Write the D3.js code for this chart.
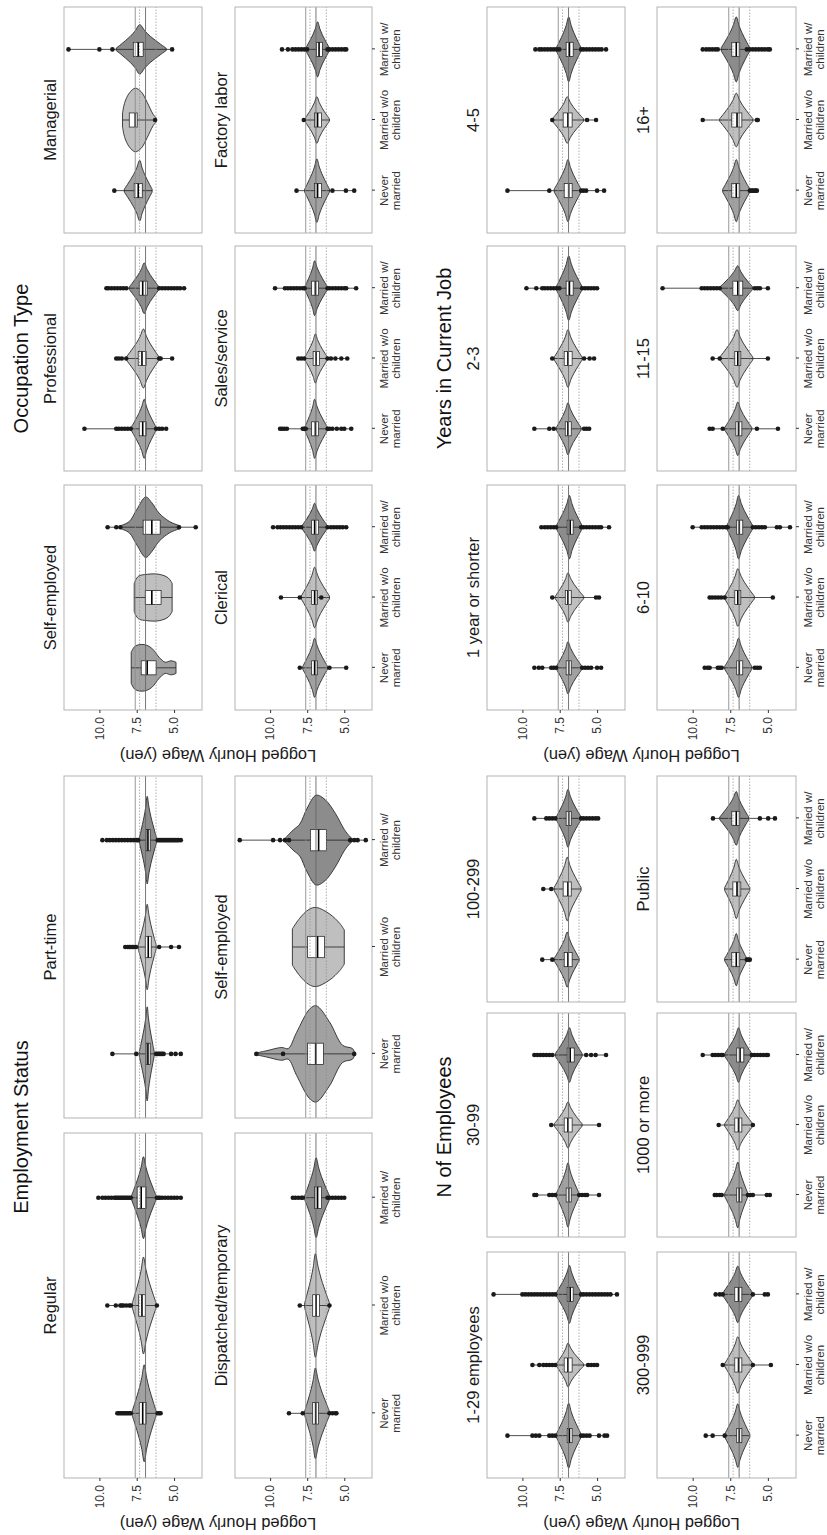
<!DOCTYPE html>
<html>
<head>
<meta charset="utf-8">
<script src="https://cdn.jsdelivr.net/npm/d3@7"></script>
<style>
  body { margin: 0; background: #fff; }
  text { font-family: "Liberation Sans", Arial, Helvetica, sans-serif; }
</style>
</head>
<body>
<svg id="chart" width="827" height="1535"></svg>
<script>
// categories and ticks
var categories = ["Never married", "Married w/o children", "Married w/ children"];
var categoryLines = [["Never", "married"], ["Married w/o", "children"], ["Married w/", "children"]];
var yTicks = [10, 7.5, 5];
var yDomain = [3.13, 12.37];
// reference wages: log(2000), log(1000) solid; log(1500), log(500) dotted
var refSolid = [7.60, 6.91];
var refDotted = [7.31, 6.21];

var sectionTitles = ["Employment Status", "Occupation Type", "N of Employees", "Years in Current Job"];
var employmentFacets = ["Regular", "Part-time", "Dispatched/temporary", "Self-employed"];
var occupationFacets = ["Self-employed", "Professional", "Managerial", "Clerical", "Sales/service", "Factory labor"];
var firmSizeFacets = ["1-29 employees", "30-99", "100-299", "300-999", "1000 or more", "Public"];
var tenureFacets = ["1 year or shorter", "2-3", "4-5", "6-10", "11-15", "16+"];

// each violin: [q1, median, q3, low end, mode, high end, half width, outliers, (explicit outline)]
var employmentViolins = [
  [ // Regular
    [6.87, 7.1, 7.33, 6.2, 7.0, 7.8, .45, [8.8, 8.7, 8.6, 8.5, 8.4, 8.3, 8.2, 8.1, 8.0, 7.9, 6.1, 6.0, 5.9]],
    [6.93, 7.15, 7.37, 6.2, 7.05, 7.8, .45, [9.47, 8.9, 8.6, 8.5, 8.4, 8.2, 8.0, 7.9, 6.15]],
    [6.87, 7.2, 7.47, 6.2, 7.05, 7.85, .38, [10.07, 9.8, 9.6, 9.4, 9.2, 9.0, 8.9, 8.8, 8.7, 8.6, 8.5, 8.4, 8.3, 8.2, 8.1, 8.0, 7.9, 6.15, 6.05, 5.95, 5.8, 5.6, 5.4, 5.2, 5.0, 4.8, 4.55]]
  ],
  [ // Part-time
    [6.6, 6.75, 6.87, 6.33, 6.8, 7.33, .44, [9.13, 7.53, 6.2, 6.1, 6.0, 5.9, 5.8, 5.7, 5.2, 4.9, 4.55]],
    [6.53, 6.73, 6.93, 6.2, 6.8, 7.4, .4, [8.27, 8.1, 8.0, 7.9, 7.8, 7.7, 7.55, 6.0, 5.2, 4.67]],
    [6.6, 6.75, 6.87, 6.17, 6.8, 7.33, .41, [9.8, 9.5, 9.3, 9.1, 8.9, 8.7, 8.5, 8.3, 8.1, 7.9, 7.7, 7.5, 7.4, 6.1, 6.0, 5.9, 5.8, 5.7, 5.6, 5.5, 5.4, 5.3, 5.2, 5.1, 5.0, 4.9, 4.8, 4.7, 4.55]]
  ],
  [ // Dispatched/temporary
    [6.73, 6.93, 7.13, 6.0, 6.95, 7.67, .42, [8.73, 7.8, 6.0, 5.8, 5.6, 5.53]],
    [6.67, 6.9, 7.13, 6.0, 6.95, 7.67, .48, [8.0, 6.0]],
    [6.53, 6.8, 7.0, 6.0, 6.9, 7.67, .37, [8.47, 8.3, 8.1, 7.9, 7.8, 6.13, 6.0, 5.8, 5.6, 5.4, 5.2, 5.0]]
  ],
  [ // Self-employed
    [6.4, 6.93, 7.47, 4.27, 6.89, 10.89, .45, [10.93, 9.13, 4.33],
      [[4.27, 0], [4.45, .05], [5.11, .08], [6.0, .3], [6.89, .45], [7.33, .42], [8.22, .2], [8.78, .05], [9.22, .06], [10.22, .03], [10.89, .01]]],
    [6.33, 6.8, 7.47, 5.0, 6.9, 8.5, .37, [],
      [[5.0, .16], [5.3, .22], [6.0, .31], [6.9, .37], [7.4, .35], [8.0, .27], [8.5, .17]]],
    [6.2, 6.73, 7.27, 4.33, 6.9, 9.1, .42, [12.05, 9.8, 9.33, 9.0, 8.73, 4.6, 4.33, 4.1, 3.55],
      [[4.33, 0], [4.6, .03], [5.0, .1], [5.6, .25], [6.3, .38], [6.9, .42], [7.5, .3], [8.0, .15], [8.4, .1], [8.7, .06], [9.1, 0]]]
  ]
];

var occupationViolins = [
  [ // Self-employed
    [6.2, 6.8, 7.2, 4.87, 7.0, 7.87, .33, [],
      [[4.87, .08], [5.2, .1], [5.6, .08], [6.0, .15], [6.5, .28], [7.0, .33], [7.6, .31], [7.87, .22]]],
    [5.87, 6.49, 6.93, 5.13, 6.5, 7.67, .33, [],
      [[5.13, .2], [5.4, .28], [6.0, .33], [6.8, .33], [7.4, .3], [7.67, .2]]],
    [5.93, 6.49, 7.07, 4.6, 6.8, 8.6, .43, [9.45, 8.87, 8.6, 4.67, 3.55],
      [[4.6, .02], [5.3, .08], [6.0, .2], [6.5, .35], [6.9, .43], [7.5, .25], [8.0, .08], [8.6, .02]]]
  ],
  [ // Professional
    [6.87, 7.1, 7.33, 6.2, 7.0, 7.87, .42, [11.0, 8.87, 8.7, 8.5, 8.3, 8.1, 7.9, 6.2, 6.0, 5.8, 5.53]],
    [6.87, 7.15, 7.4, 6.0, 7.05, 8.2, .42, [8.87, 8.7, 8.5, 8.2, 6.0, 5.9, 5.13]],
    [6.8, 7.1, 7.33, 6.0, 7.0, 8.0, .36, [9.53, 9.4, 9.2, 9.0, 8.8, 8.6, 8.4, 8.2, 6.0, 5.8, 5.6, 5.4, 5.2, 5.0, 4.8, 4.6, 4.33]]
  ],
  [ // Managerial
    [7.13, 7.4, 7.67, 6.47, 7.3, 8.33, .43, [9.0]],
    [7.47, 7.6, 8.0, 6.2, 7.6, 8.45, .45, [6.27],
      [[6.2, .03], [6.4, .08], [6.8, .25], [7.2, .4], [7.6, .45], [8.0, .38], [8.3, .25], [8.45, .1]]],
    [7.07, 7.4, 7.73, 5.53, 7.3, 8.87, .35, [12.07, 10.0, 9.13, 5.13]]
  ],
  [ // Clerical
    [6.8, 7.0, 7.2, 6.13, 7.0, 7.8, .42, [8.0, 6.0, 4.87]],
    [6.8, 7.0, 7.2, 6.0, 7.0, 7.9, .43, [9.27, 8.0, 6.55]],
    [6.73, 7.0, 7.2, 6.13, 7.0, 7.87, .34, [9.8, 9.5, 9.3, 9.1, 8.9, 8.7, 8.5, 8.3, 8.1, 7.9, 6.13, 5.9, 5.7, 5.5, 5.3, 5.1, 4.87]]
  ],
  [ // Sales/service
    [6.73, 6.95, 7.2, 6.13, 7.0, 7.67, .42, [9.33, 9.2, 9.05, 8.87, 7.8, 7.7, 7.6, 6.13, 6.0, 5.8, 5.5, 5.2, 5.0, 4.53]],
    [6.67, 6.9, 7.1, 6.13, 6.95, 7.67, .35, [8.1, 7.9, 7.7, 6.13, 5.9, 5.6, 5.2, 4.8]],
    [6.73, 6.95, 7.2, 6.13, 7.0, 7.67, .39, [9.67, 9.0, 8.8, 8.6, 8.4, 8.2, 8.0, 7.8, 7.67, 6.13, 6.0, 5.8, 5.6, 5.4, 5.2, 5.0, 4.87, 4.2]]
  ],
  [ // Factory labor
    [6.53, 6.8, 7.0, 6.0, 6.85, 7.67, .45, [8.22, 5.8, 4.89, 4.33]],
    [6.53, 6.8, 7.0, 6.0, 6.85, 7.67, .33, [7.73]],
    [6.47, 6.7, 6.87, 6.0, 6.8, 7.6, .39, [9.2, 8.8, 8.5, 8.3, 8.1, 7.9, 7.7, 7.5, 6.13, 6.0, 5.8, 5.6, 5.4, 5.2, 5.0, 4.87]]
  ]
];

var firmSizeViolins = [
  [ // 1-29 employees
    [6.67, 6.85, 7.0, 6.07, 6.9, 7.73, .46, [11.0, 9.33, 9.1, 8.87, 8.2, 8.0, 7.8, 6.07, 5.9, 5.7, 5.5, 4.87, 4.5, 4.33]],
    [6.67, 6.95, 7.2, 5.9, 6.95, 7.73, .31, [9.33, 8.87, 8.6, 8.4, 8.2, 8.0, 7.8, 5.6, 5.4, 5.2, 5.0]],
    [6.6, 6.8, 7.0, 6.07, 6.85, 7.73, .41, [11.93, 10.0, 9.8, 9.6, 9.4, 9.2, 9.0, 8.8, 8.6, 8.4, 8.2, 8.0, 7.8, 6.07, 5.9, 5.7, 5.5, 5.3, 5.1, 4.9, 4.7, 4.5, 4.3, 4.1, 3.67]]
  ],
  [ // 30-99
    [6.73, 6.9, 7.07, 6.2, 6.95, 7.73, .46, [9.2, 9.07, 8.2, 8.0, 7.8, 6.2, 6.0, 5.8, 5.67, 4.87]],
    [6.67, 6.95, 7.2, 6.0, 6.95, 7.87, .33, [8.07, 4.87]],
    [6.53, 6.8, 7.0, 6.0, 6.85, 7.8, .39, [9.2, 9.0, 8.8, 8.6, 8.4, 8.2, 8.0, 5.73, 5.4, 5.1, 4.4]]
  ],
  [ // 100-299
    [6.67, 6.95, 7.2, 6.2, 7.0, 7.87, .39, [8.67, 8.0]],
    [6.73, 6.95, 7.27, 6.07, 7.0, 7.87, .45, [8.6, 8.07]],
    [6.73, 6.9, 7.07, 6.07, 6.95, 7.73, .41, [9.2, 8.4, 8.2, 8.0, 7.8, 6.07, 5.9, 5.7, 5.5, 5.3, 5.1, 4.93]]
  ],
  [ // 300-999
    [6.73, 6.9, 7.07, 6.2, 7.0, 7.87, .45, [9.13, 8.67, 7.87]],
    [6.73, 6.95, 7.2, 6.0, 7.0, 7.87, .4, [8.0, 6.0, 4.8]],
    [6.73, 6.95, 7.2, 6.0, 7.0, 8.0, .4, [8.47, 8.2, 8.0, 6.0, 5.2, 5.0]]
  ],
  [ // 1000 or more
    [6.73, 6.9, 7.07, 6.33, 7.0, 7.87, .47, [8.53, 8.4, 8.2, 8.07, 6.33, 6.15, 6.0, 5.07, 4.87]],
    [6.73, 6.95, 7.2, 6.0, 7.0, 7.87, .36, [8.27, 6.0]],
    [6.6, 6.85, 7.07, 6.07, 6.95, 7.87, .39, [9.33, 8.67, 8.5, 8.3, 8.1, 8.0, 6.07, 5.9, 5.7, 5.5, 5.3, 5.1, 5.0]]
  ],
  [ // Public
    [6.87, 7.1, 7.4, 6.4, 7.1, 7.87, .37, [6.4, 6.3, 6.2]],
    [6.8, 7.05, 7.33, 6.2, 7.1, 7.87, .42, []],
    [6.87, 7.1, 7.4, 6.27, 7.1, 8.2, .38, [8.65, 5.53, 4.98, 4.53]]
  ]
];

var tenureViolins = [
  [ // 1 year or shorter
    [6.73, 6.9, 7.07, 6.0, 6.95, 7.73, .37, [9.2, 8.9, 8.67, 8.07, 7.9, 7.73, 6.0, 5.8, 5.6, 5.4, 5.0, 4.73]],
    [6.73, 6.95, 7.13, 5.9, 6.95, 7.8, .35, [8.0, 5.07, 4.87]],
    [6.6, 6.8, 7.0, 6.0, 6.85, 7.73, .45, [8.73, 8.5, 8.3, 8.1, 7.9, 7.73, 6.07, 5.9, 5.7, 5.5, 5.3, 5.1, 4.9, 4.73, 4.2]]
  ],
  [ // 2-3
    [6.73, 6.95, 7.13, 6.07, 6.95, 7.73, .37, [9.2, 8.2, 7.9, 5.87, 5.7, 5.53]],
    [6.67, 6.95, 7.2, 6.0, 6.95, 7.87, .41, [8.0, 5.87, 5.5, 5.2]],
    [6.6, 6.85, 7.07, 6.0, 6.9, 7.73, .46, [9.73, 9.07, 8.67, 8.5, 8.3, 8.1, 7.9, 7.7, 7.53, 6.0, 5.8, 5.6, 5.4, 5.2, 5.0]]
  ],
  [ // 4-5
    [6.67, 6.9, 7.2, 6.07, 6.95, 7.87, .44, [11.0, 8.2, 6.07, 5.9, 5.73, 5.0, 4.53]],
    [6.67, 6.95, 7.27, 5.9, 7.0, 8.0, .33, [8.0, 5.67, 5.07]],
    [6.6, 6.85, 7.07, 6.07, 6.9, 7.73, .46, [9.13, 8.87, 8.7, 8.5, 8.3, 8.1, 7.9, 7.7, 7.53, 6.07, 5.9, 5.7, 5.5, 5.3, 5.1, 4.9, 4.7, 4.4]]
  ],
  [ // 6-10
    [6.67, 6.9, 7.07, 6.07, 6.95, 7.87, .42, [9.2, 9.0, 8.87, 8.33, 8.2, 8.07, 5.87, 5.7, 5.53]],
    [6.8, 7.0, 7.2, 5.9, 7.0, 7.87, .41, [8.87, 8.7, 8.5, 8.3, 8.1, 7.87, 4.67]],
    [6.67, 6.9, 7.07, 6.0, 6.95, 7.73, .45, [10.0, 9.4, 9.2, 9.0, 8.8, 8.6, 8.4, 8.2, 8.0, 7.8, 7.67, 6.0, 5.8, 5.6, 5.4, 5.2, 4.4, 4.2, 3.53]]
  ],
  [ // 11-15
    [6.73, 6.95, 7.13, 6.07, 7.0, 7.87, .38, [8.87, 8.67, 8.0, 5.73, 4.33]],
    [6.8, 7.0, 7.2, 6.0, 7.05, 8.2, .41, [8.67, 8.2, 5.0]],
    [6.67, 7.0, 7.33, 6.0, 7.0, 8.2, .32, [12.0, 9.4, 9.2, 9.0, 8.8, 8.6, 8.4, 8.2, 5.87, 5.7, 5.53, 5.0]]
  ],
  [ // 16+
    [6.87, 7.1, 7.4, 6.2, 7.1, 8.0, .44, [6.2, 6.1, 6.0, 5.9, 5.8, 5.73]],
    [6.73, 7.05, 7.4, 6.0, 7.1, 8.2, .38, [9.33, 5.73, 5.67]],
    [6.87, 7.1, 7.4, 6.2, 7.1, 8.1, .46, [9.33, 9.1, 8.9, 8.7, 8.5, 8.33, 6.4, 6.2, 6.0, 5.8, 5.6, 5.4, 5.2, 5.0, 4.87]]
  ]
];

// outline of a typical violin, from the mode out to the tip (share of the half width)
var kite = [1, 0.74, 0.53, 0.36, 0.2, 0.05];
var fills = ["#a1a1a1", "#bfbfbf", "#8c8c8c"];

// page is a landscape figure turned a quarter to the left
var svg = d3.select("#chart");
var fig = svg.append("g").attr("transform", "translate(0,1535) rotate(-90)");

var leftCols = [[57, 402], [417, 759]];
var occCols = [[825, 1050], [1064, 1289], [1302, 1528]];
var sizeCols = [[57, 283], [298, 522], [533, 759]];
var topRows = [[64, 202], [235, 372]];
var lowRows = [[487, 625], [657, 796]];

var sections = [
  { title: sectionTitles[0], facets: employmentFacets, data: employmentViolins, cols: leftCols, rows: topRows },
  { title: sectionTitles[1], facets: occupationFacets, data: occupationViolins, cols: occCols, rows: topRows },
  { title: sectionTitles[2], facets: firmSizeFacets, data: firmSizeViolins, cols: sizeCols, rows: lowRows },
  { title: sectionTitles[3], facets: tenureFacets, data: tenureViolins, cols: occCols, rows: lowRows }
];

function outline(v) {
  if (v[8]) return v[8];
  var lo = v[3], mode = v[4], hi = v[5], hw = v[6], pts = [];
  for (var k = kite.length - 1; k >= 0; k--) {
    pts.push([mode - (mode - lo) * k / (kite.length - 1), kite[k] * hw]);
  }
  for (var k2 = 1; k2 < kite.length; k2++) {
    pts.push([mode + (hi - mode) * k2 / (kite.length - 1), kite[k2] * hw]);
  }
  return pts;
}

function drawPanel(x0, x1, y0, y1, facet, violins, showY, showX) {
  var g = fig.append("g");
  var x = d3.scalePoint().domain(categories).range([x0, x1]).padding(0.6);
  var y = d3.scaleLinear().domain(yDomain).range([y1, y0]);
  var step = x.step();

  g.append("rect")
    .attr("x", x0).attr("y", y0)
    .attr("width", x1 - x0).attr("height", y1 - y0)
    .attr("fill", "#fff");

  violins.forEach(function(v, i) {
    var cx = x(categories[i]);
    var area = d3.area()
      .curve(d3.curveCatmullRom)
      .y(function(d) { return y(d[0]); })
      .x0(function(d) { return cx - d[1] * step; })
      .x1(function(d) { return cx + d[1] * step; });
    g.append("path")
      .attr("d", area(outline(v)))
      .attr("fill", fills[i])
      .attr("stroke", "#222")
      .attr("stroke-width", 0.85);

    var all = v[7].concat([v[3], v[5]]);
    g.append("line")
      .attr("x1", cx).attr("x2", cx)
      .attr("y1", y(d3.max(all))).attr("y2", y(d3.min(all)))
      .attr("stroke", "#222").attr("stroke-width", 0.8);

    var bw = 0.1 * step;
    g.append("rect")
      .attr("x", cx - bw).attr("width", 2 * bw)
      .attr("y", y(v[2])).attr("height", y(v[0]) - y(v[2]))
      .attr("fill", "#fff").attr("stroke", "#222").attr("stroke-width", 0.75);
    g.append("line")
      .attr("x1", cx - bw).attr("x2", cx + bw)
      .attr("y1", y(v[1])).attr("y2", y(v[1]))
      .attr("stroke", "#000").attr("stroke-width", 1.6);
  });

  refSolid.forEach(function(r, i) {
    g.append("line")
      .attr("x1", x0).attr("x2", x1).attr("y1", y(r)).attr("y2", y(r))
      .attr("stroke", i === 0 ? "#8c8c8c" : "#666").attr("stroke-width", 0.9);
  });
  refDotted.forEach(function(r) {
    g.append("line")
      .attr("x1", x0).attr("x2", x1).attr("y1", y(r)).attr("y2", y(r))
      .attr("stroke", "#8c8c8c").attr("stroke-width", 0.7)
      .attr("stroke-dasharray", "1.5,1.5");
  });

  violins.forEach(function(v, i) {
    var cx = x(categories[i]);
    g.selectAll(null).data(v[7]).enter().append("circle")
      .attr("cx", cx).attr("cy", function(d) { return y(d); })
      .attr("r", 2.3).attr("fill", "#1a1a1a");
  });

  g.append("rect")
    .attr("x", x0).attr("y", y0)
    .attr("width", x1 - x0).attr("height", y1 - y0)
    .attr("fill", "none").attr("stroke", "#b3b3b3").attr("stroke-width", 1);

  g.append("text")
    .attr("x", (x0 + x1) / 2).attr("y", y0 - 8)
    .attr("text-anchor", "middle")
    .attr("font-size", "16.5px").attr("fill", "#1a1a1a")
    .text(facet);

  if (showY) {
    var ya = g.append("g")
      .attr("transform", "translate(" + x0 + ",0)")
      .call(d3.axisLeft(y).tickValues(yTicks).tickFormat(d3.format(".1f")).tickSize(3).tickPadding(4));
    ya.select(".domain").remove();
    ya.selectAll("line").attr("stroke", "#333");
    ya.selectAll("text").attr("font-size", "12px").attr("fill", "#333")
      .attr("font-family", "Liberation Sans, Arial, sans-serif");
  }

  if (showX) {
    var xa = g.append("g")
      .attr("transform", "translate(0," + y1 + ")")
      .call(d3.axisBottom(x).tickSize(3).tickFormat(""));
    xa.select(".domain").remove();
    xa.selectAll("line").attr("stroke", "#333");
    categories.forEach(function(c, i) {
      var t = g.append("text")
        .attr("text-anchor", "middle")
        .attr("font-size", "11.5px").attr("fill", "#333");
      categoryLines[i].forEach(function(line, j) {
        t.append("tspan").attr("x", x(c)).attr("y", y1 + 16 + j * 11.5).text(line);
      });
    });
  }
}

sections.forEach(function(s) {
  var nCols = s.cols.length;
  s.facets.forEach(function(f, k) {
    var c = k % nCols, r = Math.floor(k / nCols);
    drawPanel(s.cols[c][0], s.cols[c][1], s.rows[r][0], s.rows[r][1], f, s.data[k], c === 0, r === 1);
  });

  var left = s.cols[0][0], right = s.cols[nCols - 1][1];
  fig.append("text")
    .attr("x", (left + right) / 2).attr("y", s.rows[0][0] - 36.5)
    .attr("text-anchor", "middle")
    .attr("font-size", "20px").attr("fill", "#111")
    .text(s.title);

  var midY = (s.rows[0][0] + s.rows[1][1]) / 2;
  fig.append("text")
    .attr("transform", "translate(" + (left - 40) + "," + midY + ") rotate(-90)")
    .attr("text-anchor", "middle")
    .attr("font-size", "16.5px").attr("fill", "#1a1a1a")
    .text("Logged Hourly Wage (yen)");
});
</script>
</body>
</html>
